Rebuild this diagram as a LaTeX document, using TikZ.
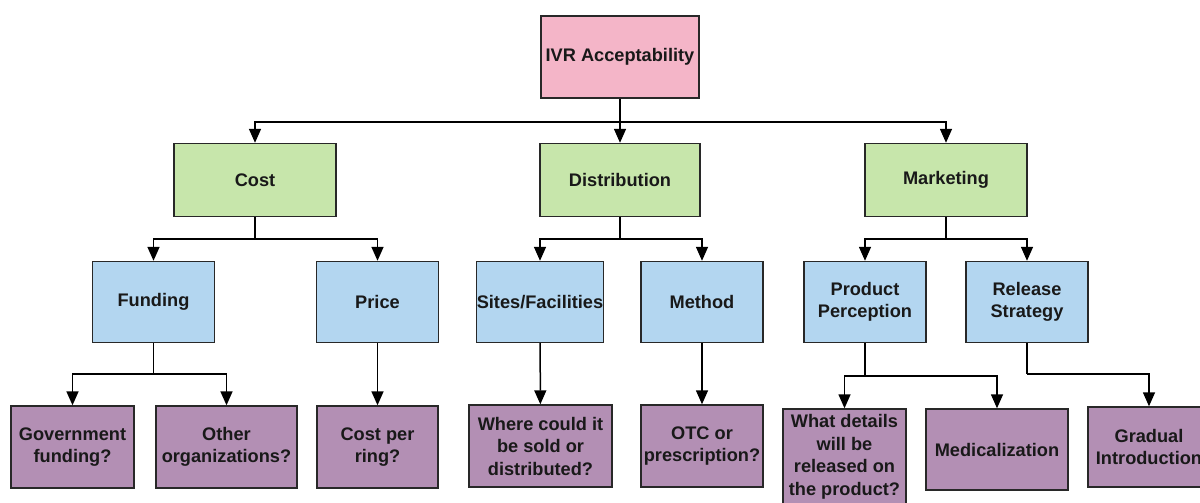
\documentclass[tikz,border=0pt]{standalone}
\usepackage{fontspec}
\setmainfont{Liberation Sans}
\usetikzlibrary{arrows.meta}
\definecolor{pinkc}{RGB}{244,181,200}
\definecolor{greenc}{RGB}{199,230,171}
\definecolor{bluec}{RGB}{179,214,240}
\definecolor{purplec}{RGB}{179,143,180}
\definecolor{edgec}{RGB}{40,40,40}
\tikzset{
  bx/.style={draw=edgec, line width=1.4pt, inner sep=0pt, align=center,
    font=\bfseries\fontsize{18.2}{22.5}\selectfont, text=black!90},
  pinkbox/.style={bx, fill=pinkc},
  greenbox/.style={bx, fill=greenc, minimum width=162pt, minimum height=73pt},
  bluebox/.style={bx, fill=bluec, minimum width=122pt, minimum height=81pt},
  purplebox/.style={bx, fill=purplec},
  arr/.style={-{Triangle[length=14pt,width=12pt]}, line width=1.5pt, black},
  ln/.style={line width=1.5pt, black}
}
\begin{document}
\begin{tikzpicture}[x=1pt,y=-1pt]
\useasboundingbox (0,0) rectangle (1200,503);
\clip (0,0) rectangle (1200,503);
% level 0
\node[pinkbox, minimum width=158pt, minimum height=82pt] (ivr) at (620,57) {IVR Acceptability};
% level 1
\node[greenbox] (cost) at (255,180) {Cost};
\node[greenbox, minimum width=160pt] (dist) at (620,180) {Distribution};
\node[greenbox] (mkt) at (946,180) {Marketing};
% level 2
\node[bluebox] (fund) at (153.5,302) {Funding};
\node[bluebox] (price) at (377.5,302) {Price};
\node[bluebox] (sites) at (540,302) {Sites/Facilities};
\node[bluebox] (meth) at (702,302) {Method};
\node[bluebox] (prod) at (865,302) {Product\\Perception};
\node[bluebox] (rel) at (1027,302) {Release\\Strategy};
% level 3
\node[purplebox, minimum width=123pt, minimum height=82pt] (gov) at (72.5,447) {Government\\funding?};
\node[purplebox, minimum width=141pt, minimum height=82pt] (other) at (226.5,447) {Other\\organizations?};
\node[purplebox, minimum width=121pt, minimum height=82pt] (cpr) at (377.5,447) {Cost per\\ring?};
\node[purplebox, minimum width=143pt, minimum height=82pt] (where) at (540.5,446) {Where could it\\be sold or\\distributed?};
\node[purplebox, minimum width=122pt, minimum height=82pt] (otc) at (702,446) {OTC or\\prescription?};
\node[purplebox, minimum width=123pt, minimum height=96pt] (what) at (844.5,457) {What details\\will be\\released on\\the product?};
\node[purplebox, minimum width=142pt, minimum height=81pt] (med) at (997,449.5) {Medicalization};
\node[purplebox, minimum width=122pt, minimum height=80pt] (grad) at (1149,447) {Gradual\\Introduction};
% junctions
\coordinate (j0) at (620,122);
\coordinate (jc) at (255,239);
\coordinate (jd) at (620,239);
\coordinate (jm) at (946,239);
\coordinate (jf) at (153.5,374);
\coordinate (jp) at (865,376);
\coordinate (jr) at (1027,374);
% connectors
\draw[arr] (ivr) -- (dist);
\draw[arr] (j0) -| (cost);
\draw[arr] (j0) -| (mkt);
\draw[ln] (cost) -- (jc);
\draw[arr] (jc) -| (fund);
\draw[arr] (jc) -| (price);
\draw[ln] (dist) -- (jd);
\draw[arr] (jd) -| (sites);
\draw[arr] (jd) -| (meth);
\draw[ln] (mkt) -- (jm);
\draw[arr] (jm) -| (prod);
\draw[arr] (jm) -| (rel);
\draw[ln] (fund) -- (jf);
\draw[arr] (jf) -| (gov);
\draw[arr] (jf) -| (other);
\draw[arr] (price) -- (cpr);
\draw[arr] (sites) -- (where);
\draw[arr] (meth) -- (otc);
\draw[ln] (prod) -- (jp);
\draw[arr] (jp) -| (what);
\draw[arr] (jp) -| (med);
\draw[ln] (rel) -- (jr);
\draw[arr] (jr) -| (grad);
\end{tikzpicture}
\end{document}
